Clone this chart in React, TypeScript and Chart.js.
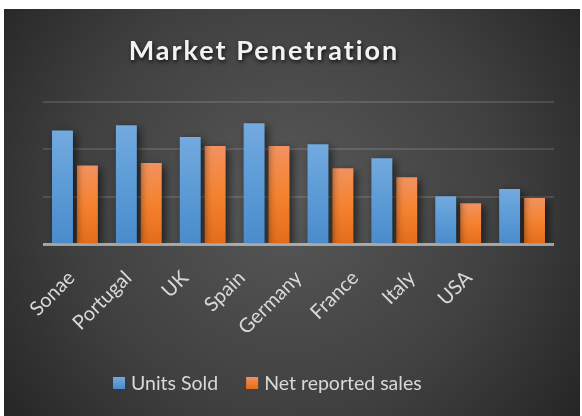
import React, { useEffect, useRef } from "react";
import { Chart, registerables } from "chart.js";

Chart.register(...registerables);

const categories = ["Sonae", "Portugal", "UK", "Spain", "Germany", "France", "Italy", "USA"];
const unitsSold = [2.4, 2.51, 2.26, 2.55, 2.11, 1.81, 1.01, 1.16];
const netReportedSales = [1.66, 1.71, 2.07, 2.07, 1.6, 1.41, 0.86, 0.97];
const seriesNames = ["Units Sold", "Net reported sales"];
const titleText = "Market Penetration";
// tick labels of the label axis (one trailing empty slot, as in the original layout)
const tickLabels = [...categories, ""];

const FONT = "Lato, 'Open Sans', sans-serif";

function barGradient(ctx: any, stops: string[]) {
  const chart = ctx.chart;
  const yScale = chart.scales?.y;
  if (!chart.chartArea || !yScale || ctx.type !== "data") return stops[1];
  const v = ctx.parsed ? ctx.parsed.y : ctx.raw;
  const top = yScale.getPixelForValue(v);
  const bottom = yScale.getPixelForValue(0);
  if (!isFinite(top) || !isFinite(bottom) || top === bottom) return stops[1];
  const g = chart.ctx.createLinearGradient(0, top, 0, bottom);
  g.addColorStop(0, stops[0]);
  g.addColorStop(0.5, stops[1]);
  g.addColorStop(1, stops[2]);
  return g;
}

const blueStops = ["#73aadf", "#5c9bd6", "#4a8bcb"];
const orangeStops = ["#f2925f", "#f5822f", "#e36c1a"];

const decorPlugin = {
  id: "decor",
  beforeDraw(chart: any) {
    const { ctx, width, height } = chart;
    ctx.save();
    const g = ctx.createRadialGradient(285, 190, 10, 285, 190, 380);
    g.addColorStop(0, "#575757");
    g.addColorStop(0.55, "#404040");
    g.addColorStop(1, "#222222");
    ctx.fillStyle = g;
    ctx.fillRect(0, 0, width, height);
    ctx.restore();
  },
  beforeDatasetsDraw(chart: any) {
    const ctx = chart.ctx;
    ctx.save();
    ctx.shadowColor = "rgba(0,0,0,0.6)";
    ctx.shadowBlur = 9;
    ctx.shadowOffsetX = 3;
    ctx.shadowOffsetY = 3;
  },
  afterDatasetsDraw(chart: any) {
    const ctx = chart.ctx;
    ctx.restore();
    const { left, right } = chart.chartArea;
    const y0 = chart.scales.y.getPixelForValue(0);
    ctx.save();
    ctx.strokeStyle = "rgba(210,210,210,0.65)";
    ctx.lineWidth = 3;
    ctx.beginPath();
    ctx.moveTo(left, y0 + 0.5);
    ctx.lineTo(right, y0 + 0.5);
    ctx.stroke();
    ctx.restore();
  },
  afterDraw(chart: any) {
    const ctx = chart.ctx;
    // title
    ctx.save();
    ctx.font = `bold 27px ${FONT}`;
    (ctx as any).letterSpacing = "2px";
    ctx.textAlign = "center";
    ctx.textBaseline = "middle";
    ctx.shadowColor = "rgba(0,0,0,0.8)";
    ctx.shadowBlur = 4;
    ctx.shadowOffsetX = 1;
    ctx.shadowOffsetY = 2;
    ctx.fillStyle = "#f2f2f2";
    ctx.fillText(titleText, 260, 42);
    ctx.restore();
    // legend
    ctx.save();
    ctx.font = `19.5px ${FONT}`;
    ctx.textBaseline = "middle";
    ctx.textAlign = "left";
    const cy = 374;
    let x = 109;
    const colors = [blueStops, orangeStops];
    seriesNames.forEach((name, i) => {
      const g = ctx.createLinearGradient(0, cy - 6, 0, cy + 6);
      g.addColorStop(0, colors[i][0]);
      g.addColorStop(1, colors[i][2]);
      ctx.fillStyle = g;
      ctx.fillRect(x, cy - 6, 12, 12);
      x += 18;
      ctx.fillStyle = "#d9d9d9";
      ctx.fillText(name, x, cy + 1);
      x += ctx.measureText(name).width + 28;
    });
    ctx.restore();
  },
};

export default function App() {
  const ref = useRef<HTMLCanvasElement>(null);
  useEffect(() => {
    if (!ref.current) return;
    const chart = new Chart(ref.current, {
      type: "bar",
      data: {
        labels: categories,
        datasets: [
          {
            label: seriesNames[0],
            data: unitsSold,
            backgroundColor: (c: any) => barGradient(c, blueStops),
            barPercentage: 0.84,
            categoryPercentage: 0.78,
            xAxisID: "x",
          },
          {
            label: seriesNames[1],
            data: netReportedSales,
            backgroundColor: (c: any) => barGradient(c, orangeStops),
            barPercentage: 0.84,
            categoryPercentage: 0.78,
            xAxisID: "x",
          },
        ],
      },
      options: {
        animation: false,
        responsive: false,
        maintainAspectRatio: false,
        layout: { padding: { left: 39, right: 26, top: 93, bottom: 72 } },
        plugins: {
          legend: { display: false },
          title: { display: false },
          tooltip: { enabled: false },
        },
        scales: {
          x: {
            position: "bottom",
            grid: { display: false, drawTicks: false },
            border: { display: false },
            ticks: { display: false },
            afterFit: (s: any) => {
              s.height = 0;
            },
          },
          x2: {
            type: "category",
            position: "bottom",
            labels: tickLabels,
            offset: true,
            grid: { display: false, drawTicks: false },
            border: { display: false },
            ticks: {
              color: "#d9d9d9",
              font: { family: FONT, size: 20 },
              maxRotation: 45,
              minRotation: 45,
              padding: 22,
              autoSkip: false,
            },
            afterFit: (s: any) => {
              s.height = 100;
            },
          },
          y: {
            min: 0,
            max: 3,
            ticks: { display: false, stepSize: 1 },
            grid: { color: "rgba(255,255,255,0.12)", lineWidth: 2, drawTicks: false },
            border: { display: false },
            afterFit: (s: any) => {
              s.width = 0;
            },
          },
        },
      },
      plugins: [decorPlugin],
    });
    return () => chart.destroy();
  }, []);
  return (
    <div style={{ position: "absolute", left: 4, top: 9, width: 576, height: 407 }}>
      <canvas ref={ref} width={576} height={407} style={{ display: "block", width: 576, height: 407 }} />
    </div>
  );
}
